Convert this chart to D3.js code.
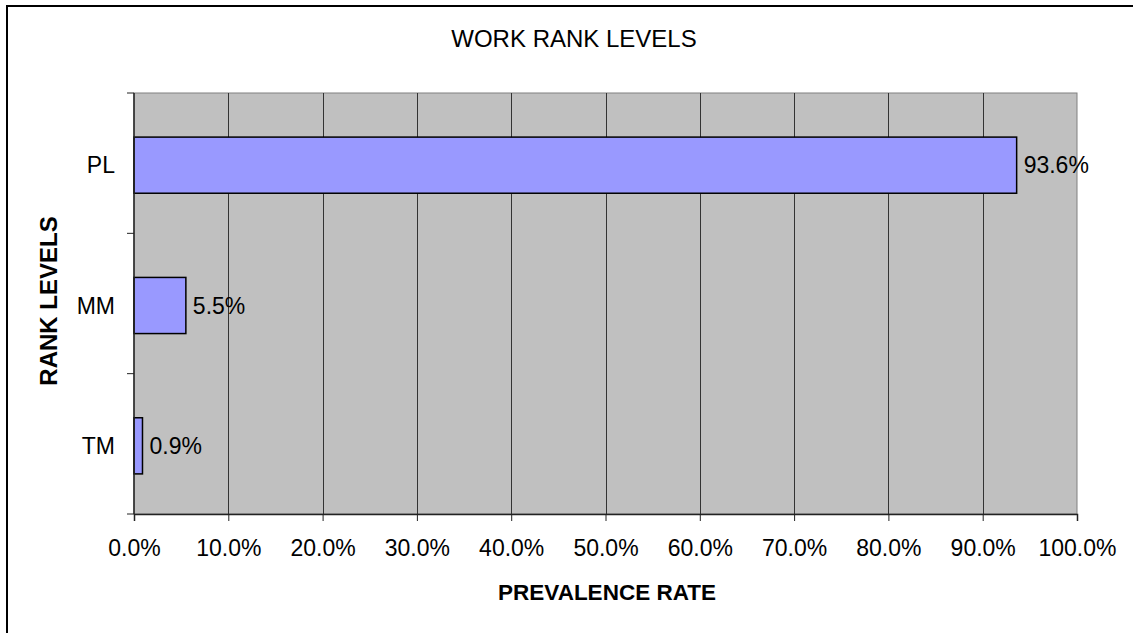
<!DOCTYPE html>
<html>
<head>
<meta charset="utf-8">
<script src="https://cdn.jsdelivr.net/npm/d3@7"></script>
<style>
  body { margin: 0; background: #fff; }
  text { font-family: "Liberation Sans", Arial, sans-serif; fill: #000; }
</style>
</head>
<body>
<svg width="1133" height="633"></svg>
<script>
// data
var categories = ['PL', 'MM', 'TM']
var values = [93.6, 5.5, 0.9]
var xTicks = [0, 10, 20, 30, 40, 50, 60, 70, 80, 90, 100]

var svg = d3.select('svg')
var plotLeft = 134, plotRight = 1077, plotTop = 93, plotBottom = 514

// outer frame (only top/left visible)
svg.append('rect')
    .attr('x', 7).attr('y', 6)
    .attr('width', 1140).attr('height', 640)
    .attr('fill', 'none')
    .attr('stroke', '#000')
    .attr('stroke-width', 2)

var x = d3.scaleLinear().domain([0, 100]).range([plotLeft, plotRight])
var y = d3.scaleBand().domain(categories).range([plotTop + 2, plotBottom + 2]).paddingInner(0.6).paddingOuter(0.3)

// plot area
svg.append('rect')
    .attr('x', plotLeft).attr('y', plotTop)
    .attr('width', plotRight - plotLeft).attr('height', plotBottom - plotTop)
    .attr('fill', '#c0c0c0')
    .attr('stroke', '#808080')
    .attr('stroke-width', 1)

// gridlines
svg.selectAll('.grid')
    .data(xTicks.slice(1, -1))
    .enter()
    .append('line')
    .attr('x1', function(d){ return Math.round(x(d)) + 0.5 })
    .attr('x2', function(d){ return Math.round(x(d)) + 0.5 })
    .attr('y1', plotTop)
    .attr('y2', plotBottom)
    .attr('stroke', '#333')
    .attr('stroke-width', 1)

// bars
svg.selectAll('.bar')
    .data(values)
    .enter()
    .append('rect')
    .attr('x', x(0))
    .attr('y', function(d, i){ return y(categories[i]) })
    .attr('width', function(d){ return x(d) - x(0) })
    .attr('height', y.bandwidth())
    .attr('fill', '#9999ff')
    .attr('stroke', '#000')
    .attr('stroke-width', 1.5)

// value labels
svg.selectAll('.val')
    .data(values)
    .enter()
    .append('text')
    .attr('x', function(d){ return x(d) + 7 })
    .attr('y', function(d, i){ return y(categories[i]) + y.bandwidth() / 2 })
    .attr('dy', '0.35em')
    .style('font-size', '23px')
    .text(function(d){ return d.toFixed(1) + '%' })

// x axis
var xAxis = d3.axisBottom(x)
    .tickValues(xTicks)
    .tickSize(7)
    .tickPadding(19)
    .tickFormat(function(d){ return d.toFixed(1) + '%' })
var gx = svg.append('g')
    .attr('transform', 'translate(0,' + plotBottom + ')')
    .call(xAxis)
gx.select('.domain').attr('stroke', '#222').attr('stroke-width', 1.5)
gx.selectAll('line').attr('stroke', '#222')
gx.selectAll('text').style('font-size', '23px').style('font-family', '"Liberation Sans", Arial, sans-serif').attr('fill', '#000')

// y axis: ticks at band boundaries
var bounds = [0, 1, 2, 3]
var step = (plotBottom - plotTop) / categories.length
svg.append('line')
    .attr('x1', plotLeft).attr('x2', plotLeft)
    .attr('y1', plotTop).attr('y2', plotBottom)
    .attr('stroke', '#222').attr('stroke-width', 1.5)
svg.selectAll('.ytick')
    .data(bounds)
    .enter()
    .append('line')
    .attr('x1', plotLeft - 7).attr('x2', plotLeft)
    .attr('y1', function(d){ return plotTop + d * step })
    .attr('y2', function(d){ return plotTop + d * step })
    .attr('stroke', '#222')
svg.selectAll('.ylab')
    .data(categories)
    .enter()
    .append('text')
    .attr('x', plotLeft - 19)
    .attr('y', function(d){ return y(d) + y.bandwidth() / 2 })
    .attr('dy', '0.35em')
    .attr('text-anchor', 'end')
    .style('font-size', '23px')
    .text(function(d){ return d })

// titles
svg.append('text')
    .attr('x', 574)
    .attr('y', 47)
    .attr('text-anchor', 'middle')
    .style('font-size', '24px')
    .text('WORK RANK LEVELS')

svg.append('text')
    .attr('x', 607)
    .attr('y', 600)
    .attr('text-anchor', 'middle')
    .style('font-size', '22.5px')
    .style('font-weight', 'bold')
    .text('PREVALENCE RATE')

svg.append('text')
    .attr('transform', 'translate(57,' + 301 + ') rotate(-90)')
    .attr('text-anchor', 'middle')
    .style('font-size', '24px')
    .style('font-weight', 'bold')
    .text('RANK LEVELS')
</script>
</body>
</html>
